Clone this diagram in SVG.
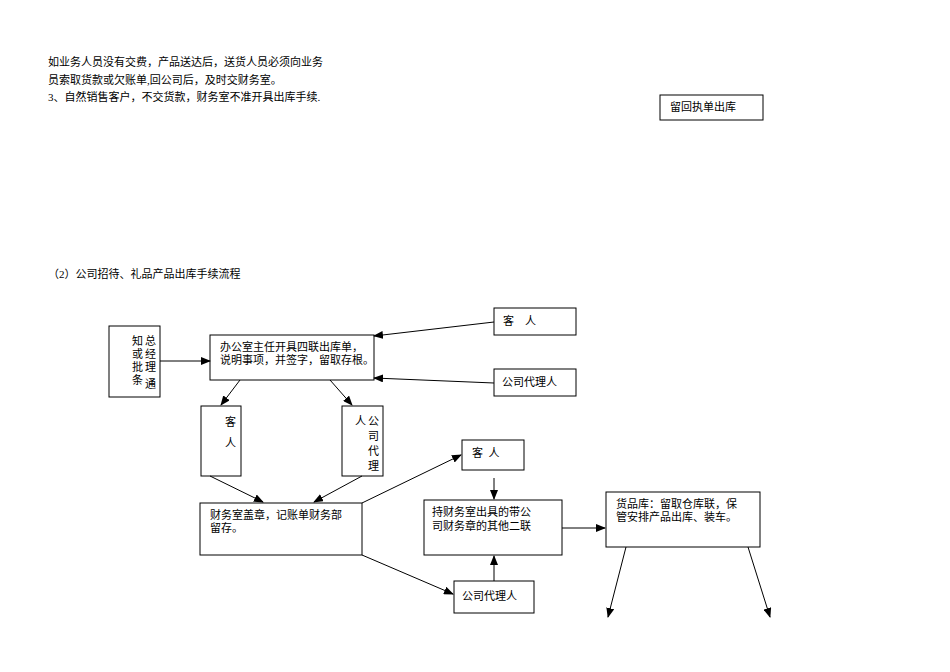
<svg xmlns="http://www.w3.org/2000/svg" width="950" height="672" viewBox="0 0 950 672">
<defs><marker id="a" markerWidth="10" markerHeight="8" refX="9" refY="4" orient="auto" markerUnits="userSpaceOnUse"><path d="M0,0 L10,4 L0,8 z" fill="#000"/></marker></defs>
<style>
text{font-family:"Liberation Serif","Noto Sans CJK SC",serif;font-size:11px;fill:#000}
rect{fill:#fff;stroke:#000;stroke-width:1}
line{stroke:#000;stroke-width:1;marker-end:url(#a)}
</style>
<rect width="950" height="672" style="stroke:none"/>
<g id="intro">
<text x="48" y="66">如业务人员没有交费，产品送达后，送货人员必须向业务</text>
<text x="48" y="84">员索取货款或欠账单,回公司后，及时交财务室。</text>
<text x="48" y="101">3、自然销售客户，不交货款，财务室不准开具出库手续.</text>
<text x="48" y="278">（2）公司招待、礼品产品出库手续流程</text>
</g>
<g id="n0"><rect x="660" y="95" width="103" height="25"/><text x="670" y="111">留回执单出库</text></g>
<g id="n1"><rect x="109" y="326" width="51" height="71"/>
<text x="132" y="345">知</text><text x="132" y="358">或</text><text x="132" y="371">批</text><text x="132" y="384">条</text>
<text x="145" y="345">总</text><text x="145" y="358">经</text><text x="145" y="371">理</text><text x="145" y="388">通</text></g>
<g id="n2"><rect x="210" y="335" width="164" height="45"/><text x="220" y="351">办公室主任开具四联出库单，</text><text x="220" y="364">说明事项，并签字，留取存根。</text></g>
<g id="n3"><rect x="494" y="308" width="82" height="27"/><text x="503" y="325" xml:space="preserve">客    人</text></g>
<g id="n4"><rect x="494" y="369" width="82" height="27"/><text x="502" y="386">公司代理人</text></g>
<g id="n5"><rect x="201" y="406" width="40" height="70"/><text x="225" y="426">客</text><text x="225" y="447">人</text></g>
<g id="n6"><rect x="342" y="406" width="41" height="70"/><text x="355" y="425">人</text><text x="368" y="425">公</text><text x="368" y="440">司</text><text x="368" y="455">代</text><text x="368" y="470">理</text></g>
<g id="n7"><rect x="200" y="503" width="162" height="52"/><text x="210" y="519">财务室盖章，记账单财务部</text><text x="210" y="532">留存。</text></g>
<g id="n8"><rect x="462" y="440" width="62" height="30"/><text x="472" y="457" xml:space="preserve">客  人</text></g>
<g id="n9"><rect x="424" y="500" width="138" height="55"/><text x="432" y="516">持财务室出具的带公</text><text x="432" y="530">司财务章的其他二联</text></g>
<g id="n10"><rect x="454" y="581" width="80" height="32"/><text x="462" y="600">公司代理人</text></g>
<g id="n11"><rect x="606" y="492" width="154" height="55"/><text x="616" y="508">货品库：留取仓库联，保</text><text x="616" y="521">管安排产品出库、装车。</text></g>
<g id="edges">
<line x1="160" y1="361" x2="210" y2="361"/>
<line x1="494" y1="322" x2="374" y2="336"/>
<line x1="494" y1="383" x2="374" y2="378"/>
<line x1="240" y1="380" x2="221" y2="405"/>
<line x1="330" y1="380" x2="352" y2="405"/>
<line x1="210" y1="476" x2="263" y2="502"/>
<line x1="362" y1="476" x2="314" y2="502"/>
<line x1="362" y1="503" x2="461" y2="455"/>
<line x1="362" y1="555" x2="453" y2="594"/>
<line x1="494" y1="478" x2="494" y2="499"/>
<line x1="494" y1="581" x2="494" y2="556"/>
<line x1="562" y1="528" x2="605" y2="528"/>
<line x1="626" y1="547" x2="608" y2="617"/>
<line x1="748" y1="547" x2="770" y2="617"/>
</g>
</svg>
